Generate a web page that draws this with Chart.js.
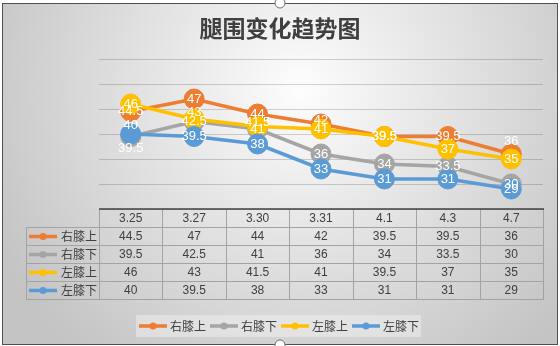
<!DOCTYPE html>
<html>
<head>
<meta charset="utf-8">
<script src="https://cdn.jsdelivr.net/npm/chart.js@4.4.1/dist/chart.umd.min.js"></script>
<style>
html, body { margin: 0; padding: 0; background: #fff; }
#wrap { width: 560px; height: 346px; }
</style>
</head>
<body>
<div id="wrap"><canvas id="myChart" width="560" height="346"></canvas></div>
<script>
// data
const chartTitle = '腿围变化趋势图';
const dates = ['3.25', '3.27', '3.30', '3.31', '4.1', '4.3', '4.7'];
const seriesNames = ['右膝上', '右膝下', '左膝上', '左膝下'];
const rightUpper = [44.5, 47, 44, 42, 39.5, 39.5, 36];
const rightLower = [39.5, 42.5, 41, 36, 34, 33.5, 30];
const leftUpper = [46, 43, 41.5, 41, 39.5, 37, 35];
const leftLower = [40, 39.5, 38, 33, 31, 31, 29];
const yTicks = [25, 30, 35, 40, 45, 50, 55];

const colors = ['#ED7D31', '#A5A5A5', '#FFC000', '#5B9BD5'];
const values = [rightUpper, rightLower, leftUpper, leftLower];
const textColor = '#404040';
const cjk = '"Noto Sans CJK SC", "Noto Sans", sans-serif';
const latin = '"Liberation Sans", Arial, sans-serif';

// label nudges (dataset-index : y offset in px), like excel moved them
const labelNudge = { '0-3': -4, '0-6': -13, '1-0': 12, '2-1': -7, '2-2': -4, '3-0': -9 };

const rowTop = 209, rowH = 18, labelLeft = 26;

const decor = {
    id: 'decor',
    beforeDraw(chart) {
        const ctx = chart.ctx;
        ctx.save();
        ctx.fillStyle = '#fff';
        ctx.fillRect(0, 0, chart.width, chart.height);
        const g = ctx.createRadialGradient(300, 90, 0, 300, 90, 340);
        g.addColorStop(0, '#fdfdfd');
        g.addColorStop(1, '#c4c4c4');
        ctx.fillStyle = g;
        ctx.fillRect(3, 4, 554, 340);
        ctx.strokeStyle = '#505050';
        ctx.lineWidth = 1;
        ctx.strokeRect(2.5, 3.5, 555, 341);
        ctx.restore();
    },
    afterDatasetsDraw(chart) {
        const ctx = chart.ctx;
        ctx.save();
        ctx.font = '13px ' + latin;
        ctx.fillStyle = '#fff';
        ctx.textAlign = 'center';
        ctx.textBaseline = 'middle';
        chart.data.datasets.forEach((ds, di) => {
            const meta = chart.getDatasetMeta(di);
            meta.data.forEach((pt, i) => {
                const dy = labelNudge[di + '-' + i] || 0;
                ctx.fillText(String(ds.data[i]), pt.x, pt.y + dy);
            });
        });
        ctx.restore();
    },
    afterDraw(chart) {
        const ctx = chart.ctx;
        const area = chart.chartArea;
        const xs = chart.scales.x;
        ctx.save();

        // title
        ctx.fillStyle = textColor;
        ctx.font = 'bold 23px ' + cjk;
        ctx.textAlign = 'center';
        ctx.textBaseline = 'middle';
        ctx.fillText(chartTitle, 280, 28);

        // data table
        const n = dates.length;
        const bounds = [area.left];
        for (let i = 0; i < n - 1; i++) {
            bounds.push((xs.getPixelForValue(i) + xs.getPixelForValue(i + 1)) / 2);
        }
        bounds.push(area.right);
        const bottom = rowTop + rowH * (seriesNames.length + 1);

        ctx.strokeStyle = '#a3a3a3';
        ctx.lineWidth = 1;
        ctx.beginPath();
        bounds.forEach(b => {
            const x = Math.round(b) + 0.5;
            ctx.moveTo(x, rowTop);
            ctx.lineTo(x, bottom);
        });
        ctx.moveTo(labelLeft + 0.5, rowTop + rowH);
        ctx.lineTo(labelLeft + 0.5, bottom);
        for (let r = 1; r <= seriesNames.length + 1; r++) {
            const y = rowTop + rowH * r + 0.5;
            ctx.moveTo(labelLeft, y);
            ctx.lineTo(area.right + 1, y);
        }
        ctx.stroke();

        ctx.strokeStyle = '#404040';
        ctx.lineWidth = 1.5;
        ctx.beginPath();
        ctx.moveTo(area.left, rowTop);
        ctx.lineTo(area.right + 1, rowTop);
        ctx.stroke();

        ctx.fillStyle = textColor;
        ctx.font = '12px ' + latin;
        ctx.textAlign = 'center';
        dates.forEach((d, i) => {
            ctx.fillText(d, xs.getPixelForValue(i), rowTop + rowH / 2 + 0.5);
        });
        values.forEach((arr, r) => {
            const cy = rowTop + rowH * (r + 1) + rowH / 2 + 0.5;
            arr.forEach((v, i) => {
                ctx.fillText(String(v), xs.getPixelForValue(i), cy);
            });
        });

        // row keys
        const drawKey = (x, y, color) => {
            ctx.strokeStyle = color;
            ctx.lineWidth = 3.5;
            ctx.lineCap = 'butt';
            ctx.beginPath();
            ctx.moveTo(x, y);
            ctx.lineTo(x + 28, y);
            ctx.stroke();
            ctx.fillStyle = color;
            ctx.beginPath();
            ctx.arc(x + 14, y, 3.5, 0, Math.PI * 2);
            ctx.fill();
        };
        seriesNames.forEach((name, r) => {
            const cy = rowTop + rowH * (r + 1) + rowH / 2 + 0.5;
            drawKey(29, cy, colors[r]);
            ctx.fillStyle = textColor;
            ctx.font = '12px ' + cjk;
            ctx.textAlign = 'left';
            ctx.fillText(name, 61, cy);
        });

        // legend
        ctx.fillStyle = 'rgba(255,255,255,0.35)';
        ctx.fillRect(136, 315, 285, 22);
        let lx = 139;
        seriesNames.forEach((name, r) => {
            drawKey(lx, 326, colors[r]);
            ctx.fillStyle = textColor;
            ctx.font = '12px ' + cjk;
            ctx.textAlign = 'left';
            ctx.fillText(name, lx + 31, 326.5);
            lx += 31 + ctx.measureText(name).width + 4;
        });

        // selection handles
        ctx.fillStyle = '#fff';
        ctx.strokeStyle = '#707070';
        ctx.lineWidth = 1;
        [[280, 3], [280, 345]].forEach(p => {
            ctx.beginPath();
            ctx.arc(p[0], p[1], 5, 0, Math.PI * 2);
            ctx.fill();
            ctx.stroke();
        });
        ctx.restore();
    }
};

const datasets = seriesNames.map((name, i) => ({
    label: name,
    data: values[i],
    borderColor: colors[i],
    backgroundColor: colors[i],
    borderWidth: 3.5,
    pointRadius: 10,
    pointBorderWidth: 1,
    pointBackgroundColor: colors[i],
    pointBorderColor: colors[i],
    tension: 0,
    order: seriesNames.length - i
}));

const myChart = new Chart(document.getElementById('myChart'), {
    type: 'line',
    data: { labels: dates, datasets: datasets },
    options: {
        responsive: false,
        animation: false,
        devicePixelRatio: 1,
        layout: { padding: { left: 99, right: 17, top: 59, bottom: 137 } },
        plugins: {
            legend: { display: false },
            title: { display: false },
            tooltip: { enabled: false }
        },
        scales: {
            x: { display: false, offset: true },
            y: {
                min: yTicks[0],
                max: yTicks[yTicks.length - 1],
                afterBuildTicks: axis => { axis.ticks = yTicks.map(v => ({ value: v })); },
                ticks: { display: false },
                grid: { color: 'rgba(0,0,0,0.17)', drawTicks: false, lineWidth: 1 },
                border: { display: false }
            }
        },
        clip: false
    },
    plugins: [decor]
});
</script>
</body>
</html>
